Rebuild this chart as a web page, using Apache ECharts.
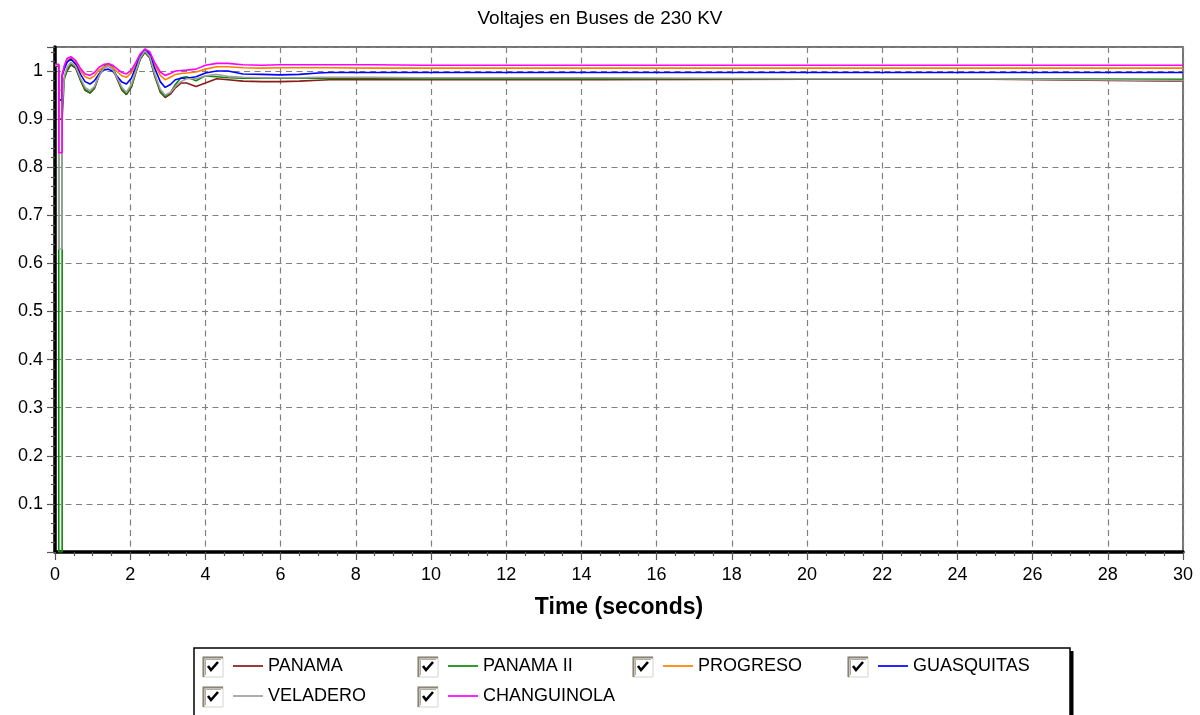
<!DOCTYPE html>
<html>
<head>
<meta charset="utf-8">
<title>Voltajes en Buses de 230 KV</title>
<script src="https://cdn.jsdelivr.net/npm/echarts@6/dist/echarts.min.js"></script>
<style>
  html, body { margin: 0; padding: 0; background: #fff; }
  #chart { width: 1200px; height: 715px; }
</style>
</head>
<body>
<div id="chart"></div>
<script>
// Simulation time (s); repeated instants mark the fault steps
const TIME = [0, 0.1, 0.1, 0.19, 0.19, 0.25, 0.32, 0.42, 0.55, 0.68,
  0.8, 0.93, 1.05, 1.17, 1.3, 1.42, 1.54, 1.66, 1.78, 1.9,
  2.03, 2.15, 2.27, 2.39, 2.52, 2.65, 2.8, 2.93, 3.07, 3.2,
  3.35, 3.5, 3.75, 4.0, 4.3, 4.6, 5.0, 5.5, 6.0, 6.5,
  7.0, 7.3, 8.5, 9.8, 14.4, 14.4, 20, 24.9, 24.9, 30];

// Bus voltages (pu)
const PANAMA = [1.010, 1.010, 0.90, 0.90, 0.97, 0.985, 1.000, 1.013, 1.006, 0.980,
  0.960, 0.954, 0.964, 0.990, 1.006, 1.011, 1.004, 0.982, 0.960, 0.951,
  0.966, 0.997, 1.025, 1.039, 1.027, 0.990, 0.956, 0.945, 0.952, 0.965,
  0.975, 0.975, 0.968, 0.975, 0.984, 0.982, 0.979, 0.978, 0.978, 0.979,
  0.981, 0.982, 0.982, 0.982, 0.982, 0.983, 0.983, 0.983, 0.979, 0.979];
const PANAMA_II = [1.011, 1.011, 0.0, 0.0, 0.90, 0.985, 1.003, 1.015, 1.008, 0.982,
  0.962, 0.955, 0.966, 0.992, 1.010, 1.016, 1.008, 0.985, 0.962, 0.952,
  0.968, 0.998, 1.026, 1.040, 1.028, 0.992, 0.958, 0.947, 0.955, 0.972,
  0.986, 0.988, 0.980, 0.990, 0.988, 0.986, 0.985, 0.985, 0.985, 0.985,
  0.985, 0.985, 0.985, 0.984, 0.984, 0.984, 0.984, 0.984, 0.983, 0.983];
const PROGRESO = [1.013, 1.013, 0.96, 0.96, 0.995, 1.010, 1.022, 1.027, 1.018, 1.000,
  0.988, 0.984, 0.990, 1.002, 1.009, 1.011, 1.007, 0.998, 0.990, 0.987,
  0.996, 1.014, 1.034, 1.045, 1.038, 1.014, 0.991, 0.982, 0.987, 0.993,
  0.995, 0.996, 0.998, 1.004, 1.009, 1.009, 1.007, 1.006, 1.007, 1.007,
  1.007, 1.007, 1.006, 1.006, 1.006, 1.006, 1.006, 1.006, 1.006, 1.006];
const GUASQUITAS = [1.012, 1.012, 0.94, 0.94, 0.990, 1.005, 1.018, 1.025, 1.014, 0.993,
  0.978, 0.973, 0.980, 0.994, 1.002, 1.004, 0.999, 0.988, 0.977, 0.973,
  0.985, 1.008, 1.032, 1.045, 1.035, 1.006, 0.978, 0.966, 0.972, 0.982,
  0.985, 0.985, 0.988, 0.996, 1.000, 1.000, 0.994, 0.993, 0.992, 0.993,
  0.996, 0.997, 0.997, 0.997, 0.997, 0.997, 0.997, 0.997, 0.997, 0.997];
const VELADERO = [1.012, 1.012, 0.63, 0.63, 0.93, 0.990, 1.008, 1.018, 1.010, 0.985,
  0.966, 0.959, 0.968, 0.990, 1.006, 1.010, 1.003, 0.985, 0.966, 0.956,
  0.972, 1.000, 1.028, 1.042, 1.030, 0.995, 0.962, 0.950, 0.956, 0.968,
  0.978, 0.984, 0.984, 0.990, 0.993, 0.989, 0.987, 0.986, 0.986, 0.986,
  0.987, 0.987, 0.987, 0.986, 0.986, 0.984, 0.984, 0.984, 0.980, 0.980];
const CHANGUINOLA = [1.014, 1.014, 0.83, 0.83, 0.99, 1.012, 1.026, 1.030, 1.022, 1.005,
  0.994, 0.991, 0.997, 1.008, 1.014, 1.015, 1.012, 1.004, 0.997, 0.994,
  1.002, 1.018, 1.036, 1.046, 1.040, 1.018, 0.998, 0.991, 0.995, 1.000,
  1.001, 1.002, 1.004, 1.012, 1.016, 1.016, 1.013, 1.012, 1.013, 1.013,
  1.013, 1.013, 1.013, 1.012, 1.012, 1.012, 1.012, 1.012, 1.012, 1.012];

const BUS_NAMES = ['PANAMA', 'PANAMA II', 'PROGRESO', 'GUASQUITAS', 'VELADERO', 'CHANGUINOLA'];
const BUS_VALUES = [PANAMA, PANAMA_II, PROGRESO, GUASQUITAS, VELADERO, CHANGUINOLA];
const BUS_COLORS = ['#8b1a1a', '#0a8a0a', '#ff8000', '#0000ff', '#a0a0a0', '#ff00ff'];

const FONT = '"Liberation Sans", Arial, sans-serif';

// legend layout: 4 columns, 2 rows
const COL_X = [203, 418, 633, 848];
const ROW_Y = [657, 687];
const slot = i => ({ x: COL_X[i % 4], y: ROW_Y[Math.floor(i / 4)] });

const series = BUS_NAMES.map((name, i) => ({
  name,
  type: 'line',
  showSymbol: false,
  symbol: 'none',
  lineStyle: { width: 1.6, color: BUS_COLORS[i] },
  itemStyle: { color: BUS_COLORS[i] },
  data: TIME.map((t, k) => [t, BUS_VALUES[i][k]])
}));

const legends = BUS_NAMES.map((name, i) => {
  const p = slot(i);
  return {
    data: [name],
    left: p.x + 30,
    top: p.y,
    padding: 0,
    itemWidth: 30,
    itemHeight: 20,
    icon: 'path://M0,0h28v1.6h-28z',
    selectedMode: false,
    textStyle: { fontSize: 18, color: '#000', fontFamily: FONT }
  };
});

// check boxes in front of each legend entry
const boxes = [];
BUS_NAMES.forEach((name, i) => {
  const p = slot(i);
  boxes.push({
    type: 'group', x: p.x, y: p.y,
    children: [
      { type: 'rect', shape: { x: 0, y: 0, width: 20, height: 20 }, style: { fill: '#fff', stroke: '#d8d4cc', lineWidth: 1 } },
      { type: 'polyline', shape: { points: [[0.5, 20], [0.5, 0.5], [20, 0.5]] }, style: { stroke: '#8a8576', lineWidth: 2, fill: null } },
      { type: 'polyline', shape: { points: [[2.5, 18], [2.5, 2.5], [18, 2.5]] }, style: { stroke: '#b0aca2', lineWidth: 1, fill: null } },
      { type: 'polyline', shape: { points: [[5, 9], [8, 13], [15, 5]] }, style: { stroke: '#000', lineWidth: 2.6, fill: null } }
    ]
  });
});

const chart = echarts.init(document.getElementById('chart'), null, { renderer: 'canvas' });
chart.setOption({
  animation: false,
  backgroundColor: '#fff',
  title: {
    text: 'Voltajes en Buses de 230 KV',
    left: 'center',
    top: 9,
    padding: 0,
    textStyle: { fontSize: 19, fontWeight: 'normal', color: '#000', fontFamily: FONT }
  },
  legend: legends,
  grid: {
    left: 55, right: 17, top: 47, bottom: 163,
    show: true, borderColor: '#444', borderWidth: 1.5,
    containLabel: false
  },
  xAxis: {
    type: 'value',
    min: 0, max: 30, interval: 2,
    name: 'Time (seconds)',
    nameLocation: 'middle',
    nameGap: 44,
    nameTextStyle: { fontSize: 23, fontWeight: 'bold', color: '#000', fontFamily: FONT },
    axisLine: { show: true, onZero: false, lineStyle: { color: '#000', width: 3.5 } },
    axisTick: { show: true, length: 8, lineStyle: { color: '#555', width: 1.2 } },
    minorTick: { show: true, splitNumber: 4, length: 4, lineStyle: { color: '#555', width: 1.2 } },
    splitLine: { show: true, lineStyle: { color: '#808080', type: [6, 4.5], width: 1.2 } },
    axisLabel: { fontSize: 18, color: '#000', margin: 14, fontFamily: FONT }
  },
  yAxis: {
    type: 'value',
    min: 0, max: 1.05, interval: 0.1,
    axisLine: { show: true, onZero: false, lineStyle: { color: '#000', width: 3.5 } },
    axisTick: { show: true, length: 8, lineStyle: { color: '#555', width: 1.2 } },
    minorTick: { show: true, splitNumber: 5, length: 4, lineStyle: { color: '#555', width: 1.2 } },
    splitLine: { show: true, lineStyle: { color: '#808080', type: [6, 4.5], width: 1.2 } },
    axisLabel: {
      fontSize: 18, color: '#000', margin: 12, fontFamily: FONT,
      showMaxLabel: false,
      formatter: v => (v < 0.05 || v > 1.01) ? '' : String(parseFloat(v.toFixed(1)))
    }
  },
  graphic: [
    { type: 'rect', shape: { x: 194, y: 648, width: 876, height: 90 }, style: { fill: '#fff', stroke: '#000', lineWidth: 1.5 }, z: -1 },
    { type: 'rect', shape: { x: 1070, y: 651, width: 3.5, height: 70 }, style: { fill: '#000' }, z: -1 },
    ...boxes
  ],
  series
});
</script>
</body>
</html>
